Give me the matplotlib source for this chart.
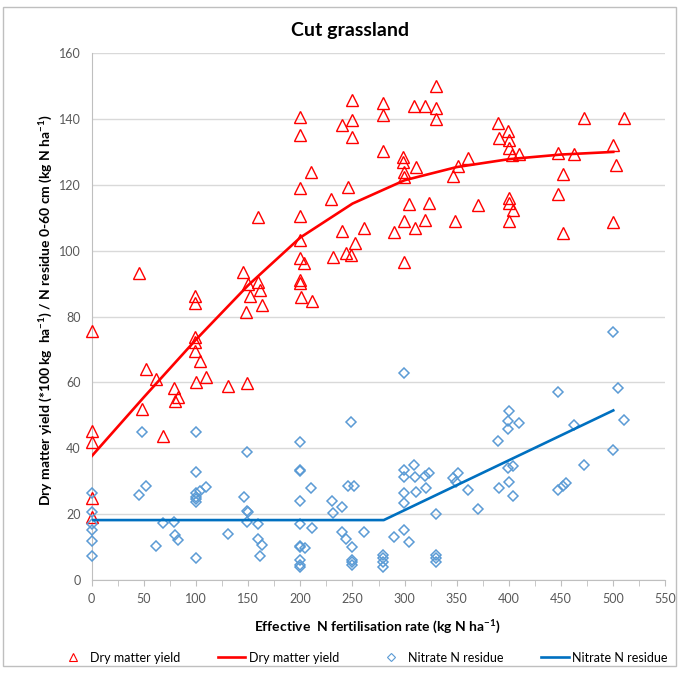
import matplotlib
matplotlib.use('Agg')
import matplotlib.pyplot as plt
from matplotlib.lines import Line2D
from matplotlib.patches import Rectangle

plt.rcParams['font.family'] = ['Lato', 'DejaVu Sans']
plt.rcParams['mathtext.fontset'] = 'custom'
plt.rcParams['mathtext.rm'] = 'Lato:bold'
plt.rcParams['mathtext.default'] = 'rm'

# dry matter yield observations (x = N rate, y = yield)
dm_x = [0, 0, 0, 0, 0, 45.6, 47.9, 52, 61.6, 68.6, 79.2, 83, 79.8,
        99, 99, 99, 99, 99, 100, 103.8, 109.5, 130.3, 145.3, 150, 147.5, 149,
        151.7, 159.7, 159.7, 161.3, 162.9,
        199.6, 199.6, 199.6, 199.6, 199.6, 199.6, 199.6, 199.6, 201, 203.7,
        209.8, 210.8, 229.6, 230.9, 239.5, 239.5, 243.4, 245.9, 248.5,
        249.7, 249.7, 249.7, 252.3, 261, 279.4, 279.4, 279.4, 290,
        298.6, 298.6, 299.6, 299.6, 299.6, 299.2, 304.3, 308.8, 309.8, 310.8,
        319.4, 319.4, 323.2, 329.6, 329.6, 329.6, 345.9, 348.1, 351.3, 360.9,
        370.4, 389.6, 390.6, 399.2, 400.2, 400.2, 400.2, 399.9, 399.9, 403.4,
        404, 409.8, 447, 447, 452, 452, 462, 472, 500, 500, 503, 510]
dm_y = [75.5, 45.1, 42.0, 24.8, 19.2, 93.1, 51.8, 64.1, 61.0, 43.7, 58.2, 55.6, 54.3,
        86.2, 84.0, 73.9, 72.2, 69.6, 60.0, 66.5, 61.7, 58.9, 93.4, 90, 81.5, 59.7,
        86.3, 90.4, 110.1, 88.0, 83.5,
        140.6, 135.1, 119.1, 110.6, 103.2, 97.8, 91.1, 90.1, 86.0, 96.4,
        123.8, 84.8, 115.6, 98.2, 138.3, 106.0, 99.2, 119.4, 98.7,
        145.9, 139.6, 134.6, 102.2, 107.0, 145.0, 141.1, 130.2, 105.7,
        128.5, 127.0, 124.0, 122.4, 96.5, 109.0, 114.1, 144.0, 107.0, 125.5,
        144.0, 109.3, 114.5, 149.9, 143.2, 139.9, 122.7, 109.0, 125.7, 128.3,
        114.0, 138.8, 134.3, 136.4, 133.6, 131.1, 109.0, 115.9, 114.4, 129.0,
        112.5, 129.5, 129.7, 117.3, 123.3, 105.5, 129.4, 140.3, 132.1, 108.8, 126, 140.3]

# fitted yield response
dm_fit_x = [0, 50, 100, 150, 200, 250, 300, 350, 400, 450, 500]
dm_fit_y = [37.6, 55.5, 73, 89.5, 104, 114.3, 121.4, 125.4, 127.8, 129.2, 130.0]

# nitrate N residue observations
no3_x = [0, 0, 0, 0, 0, 0, 45.6, 47.9, 52, 61.6, 68.6, 79.2, 79.8, 83,
         100, 100, 100, 100, 100, 100, 100, 103.8, 109.5, 130.3, 146.3, 148.5, 148.5,
         150, 149.1, 159.7, 159.7, 162.9, 161.3,
         199.6, 199.6, 199.6, 199.6, 199.6, 199.6, 199.6, 199.6, 199.6, 199.6,
         204.4, 209.8, 210.8, 230, 230.9, 239.5, 239.5, 243.7, 245.9, 248.5,
         249.7, 249.7, 249.7, 249.7, 251.3, 261, 279.4, 279.4, 279.4, 279.4, 290,
         299.6, 299.6, 299.6, 299.6, 299.6, 299.6, 304, 308.8, 309.8, 310.8,
         319.4, 320.3, 323.5, 329.6, 329.6, 329.6, 329.6, 345.9, 348.8, 351.3,
         360.9, 370.4, 389.6, 390.6, 399.2, 399.2, 399.2, 400.2, 400.2, 404, 404,
         409.8, 447, 447, 452, 455, 462, 472, 500, 500, 505, 510]
no3_y = [26.3, 20.7, 17.0, 15.2, 11.9, 7.4, 25.8, 45.0, 28.5, 10.3, 17.4, 17.7, 13.7, 12.1,
         45.0, 32.9, 26.3, 25.3, 24.5, 23.6, 6.8, 27.1, 28.1, 13.9, 25.3, 38.9, 21.0,
         20.5, 17.7, 16.9, 12.4, 10.6, 7.3,
         42.0, 33.4, 33.0, 24.1, 16.9, 10.1, 10.3, 6.1, 4.6, 4.0,
         9.6, 27.8, 15.9, 24.0, 20.2, 22.3, 14.7, 12.4, 28.5, 47.9,
         10.1, 6.1, 5.4, 4.6, 28.5, 14.5, 7.6, 6.7, 5.5, 4.0, 13.1,
         62.9, 33.4, 31.4, 26.3, 23.3, 15.2, 11.4, 34.9, 31.4, 26.6,
         31.6, 27.8, 32.6, 19.9, 7.6, 6.6, 5.6, 31.1, 29.8, 32.4,
         27.3, 21.6, 42.3, 28.0, 48.4, 46.0, 33.9, 51.3, 29.8, 34.7, 25.5,
         47.8, 57, 27.3, 28.5, 29.4, 47, 34.8, 75.2, 39.4, 58.2, 48.5]

# fitted nitrate residue
no3_fit_x = [0, 280, 500]
no3_fit_y = [18.2, 18.2, 51.5]

red = '#FF0000'
blue_pt = '#5B9BD5'
blue_ln = '#0070C0'

fig = plt.figure(figsize=(6.79, 6.81), dpi=100)
ax = fig.add_axes([0.135, 0.1483, 0.845, 0.7737])

ax.plot(dm_x, dm_y, linestyle='none', marker='^', ms=8, mfc='none', mec=red, mew=1.0, zorder=3, clip_on=False)
ax.plot(dm_fit_x, dm_fit_y, color=red, lw=1.9, zorder=4)
ax.plot(no3_x, no3_y, linestyle='none', marker='D', ms=5.3, mfc='none', mec=blue_pt, mew=1.1, zorder=3,
        clip_on=False)
ax.plot(no3_fit_x, no3_fit_y, color=blue_ln, lw=1.9, zorder=4)

ax.set_xlim(0, 550)
ax.set_ylim(0, 160)
ax.set_xticks(range(0, 551, 50))
ax.set_xticks(range(25, 551, 50), minor=True)
ax.set_yticks(range(0, 161, 20))
ax.yaxis.grid(True, color='#D9D9D9', lw=1)
ax.set_axisbelow(True)
for s in ['top', 'right']:
    ax.spines[s].set_visible(False)
for s in ['left', 'bottom']:
    ax.spines[s].set_color('#BFBFBF')
ax.tick_params(axis='x', which='both', length=4, color='#BFBFBF', labelsize=9, labelcolor='#595959', pad=5)
ax.tick_params(axis='y', length=0, labelsize=9, labelcolor='#595959', pad=8)

fig.text(0.515, 0.955, 'Cut grassland', ha='center', va='center', fontsize=14, fontweight='bold')
fig.text(0.556, 0.078, r'Effective  N fertilisation rate (kg N ha$^{-1}$)', ha='center', va='center',
         fontsize=10, fontweight='bold')
fig.text(0.068, 0.545, r'Dry matter yield (*100 kg  ha$^{-1}$) / N residue 0-60 cm (kg N ha$^{-1}$)',
         ha='center', va='center', rotation=90, fontsize=10, fontweight='bold')

handles = [
    Line2D([], [], linestyle='none', marker='^', ms=6, mfc='none', mec=red, mew=0.8),
    Line2D([], [], color=red, lw=1.9),
    Line2D([], [], linestyle='none', marker='D', ms=4.5, mfc='none', mec=blue_pt, mew=0.8),
    Line2D([], [], color=blue_ln, lw=1.9),
]
labels = ['Dry matter yield', 'Dry matter yield', 'Nitrate N residue', 'Nitrate N residue']
fig.legend(handles, labels, loc='center', bbox_to_anchor=(0.535, 0.034), ncol=4, frameon=False,
           fontsize=9, handlelength=2.2, handletextpad=0.3, columnspacing=3.0)

fig.patches.append(Rectangle((3 / 679, 1 - 666 / 681), 673 / 679, 659 / 681, transform=fig.transFigure,
                             fill=False, edgecolor='#BFBFBF', lw=1))

fig.savefig('out.png', dpi=100)
